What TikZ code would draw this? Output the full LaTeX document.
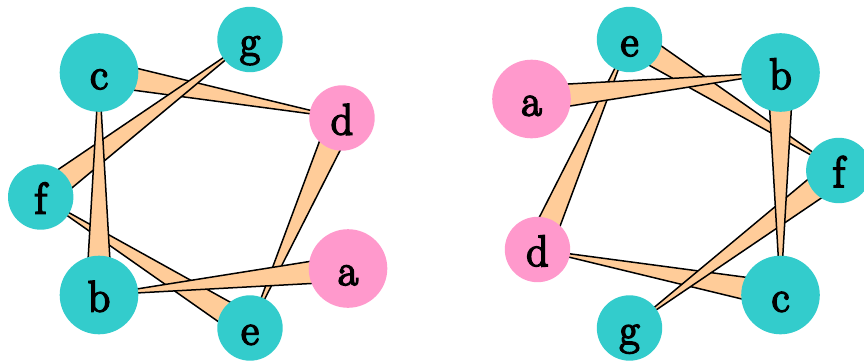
\documentclass[tikz,border=0pt]{standalone}
\usepackage{fontspec}
\usetikzlibrary{calc}
\newfontfamily\lblfont{Latin Modern Roman}[FakeBold=4]
\definecolor{teal1}{RGB}{51,204,204}
\definecolor{pink1}{RGB}{255,153,204}
\definecolor{wedge1}{RGB}{255,204,153}
\tikzset{
  vbase/.style={circle,inner sep=0pt,text height=33pt,text depth=0pt,
    font=\lblfont\fontsize{44}{44}\selectfont},
  bigt/.style={vbase,fill=teal1,minimum size=78.6pt},
  smallt/.style={vbase,fill=teal1,minimum size=65.4pt},
  bigp/.style={vbase,fill=pink1,minimum size=78.6pt},
  smallp/.style={vbase,fill=pink1,minimum size=65.4pt},
  wedgestyle/.style={fill=wedge1,draw=black,line width=1.5pt,line join=round}
}
\newcommand{\wedgeAB}[2]{%
  \draw[wedgestyle] ($(#1.center)!13pt!90:(#2.center)$) -- (#2.center)
    -- ($(#1.center)!13pt!-90:(#2.center)$) -- cycle;}
\begin{document}
\begin{tikzpicture}[x=1pt,y=-1pt]
\clip (0,0) rectangle (864,361);
\fill[white] (0,0) rectangle (864,361);
% left graph
\coordinate (Lc) at (99,72.5);
\coordinate (Lg) at (250,39.5);
\coordinate (Ld) at (342,118);
\coordinate (Lf) at (40.7,197);
\coordinate (Lb) at (99,295);
\coordinate (Le) at (250,328);
\coordinate (La) at (348,268.5);
% right graph
\coordinate (Rc) at (780.5,295);
\coordinate (Rg) at (629.5,328);
\coordinate (Rd) at (537.5,249.5);
\coordinate (Rf) at (838.8,170.5);
\coordinate (Rb) at (780.5,72.5);
\coordinate (Re) at (629.5,39.5);
\coordinate (Ra) at (531.5,99);
% wedges (wide end first)
\foreach \s in {L,R}{
  \wedgeAB{\s e}{\s f}
  \wedgeAB{\s c}{\s d}
  \wedgeAB{\s f}{\s g}
  \wedgeAB{\s b}{\s c}
  \wedgeAB{\s d}{\s e}
  \wedgeAB{\s a}{\s b}
}
% nodes
\node[bigt]   (nLc) at (Lc) {c};
\node[smallt] (nLg) at (Lg) {g};
\node[smallp] (nLd) at (Ld) {d};
\node[smallt] (nLf) at (Lf) {f};
\node[bigt]   (nLb) at (Lb) {b};
\node[smallt] (nLe) at (Le) {e};
\node[bigp]   (nLa) at (La) {a};
\node[bigt]   (nRc) at (Rc) {c};
\node[smallt] (nRg) at (Rg) {g};
\node[smallp] (nRd) at (Rd) {d};
\node[smallt] (nRf) at (Rf) {f};
\node[bigt]   (nRb) at (Rb) {b};
\node[smallt] (nRe) at (Re) {e};
\node[bigp]   (nRa) at (Ra) {a};
\end{tikzpicture}
\end{document}
